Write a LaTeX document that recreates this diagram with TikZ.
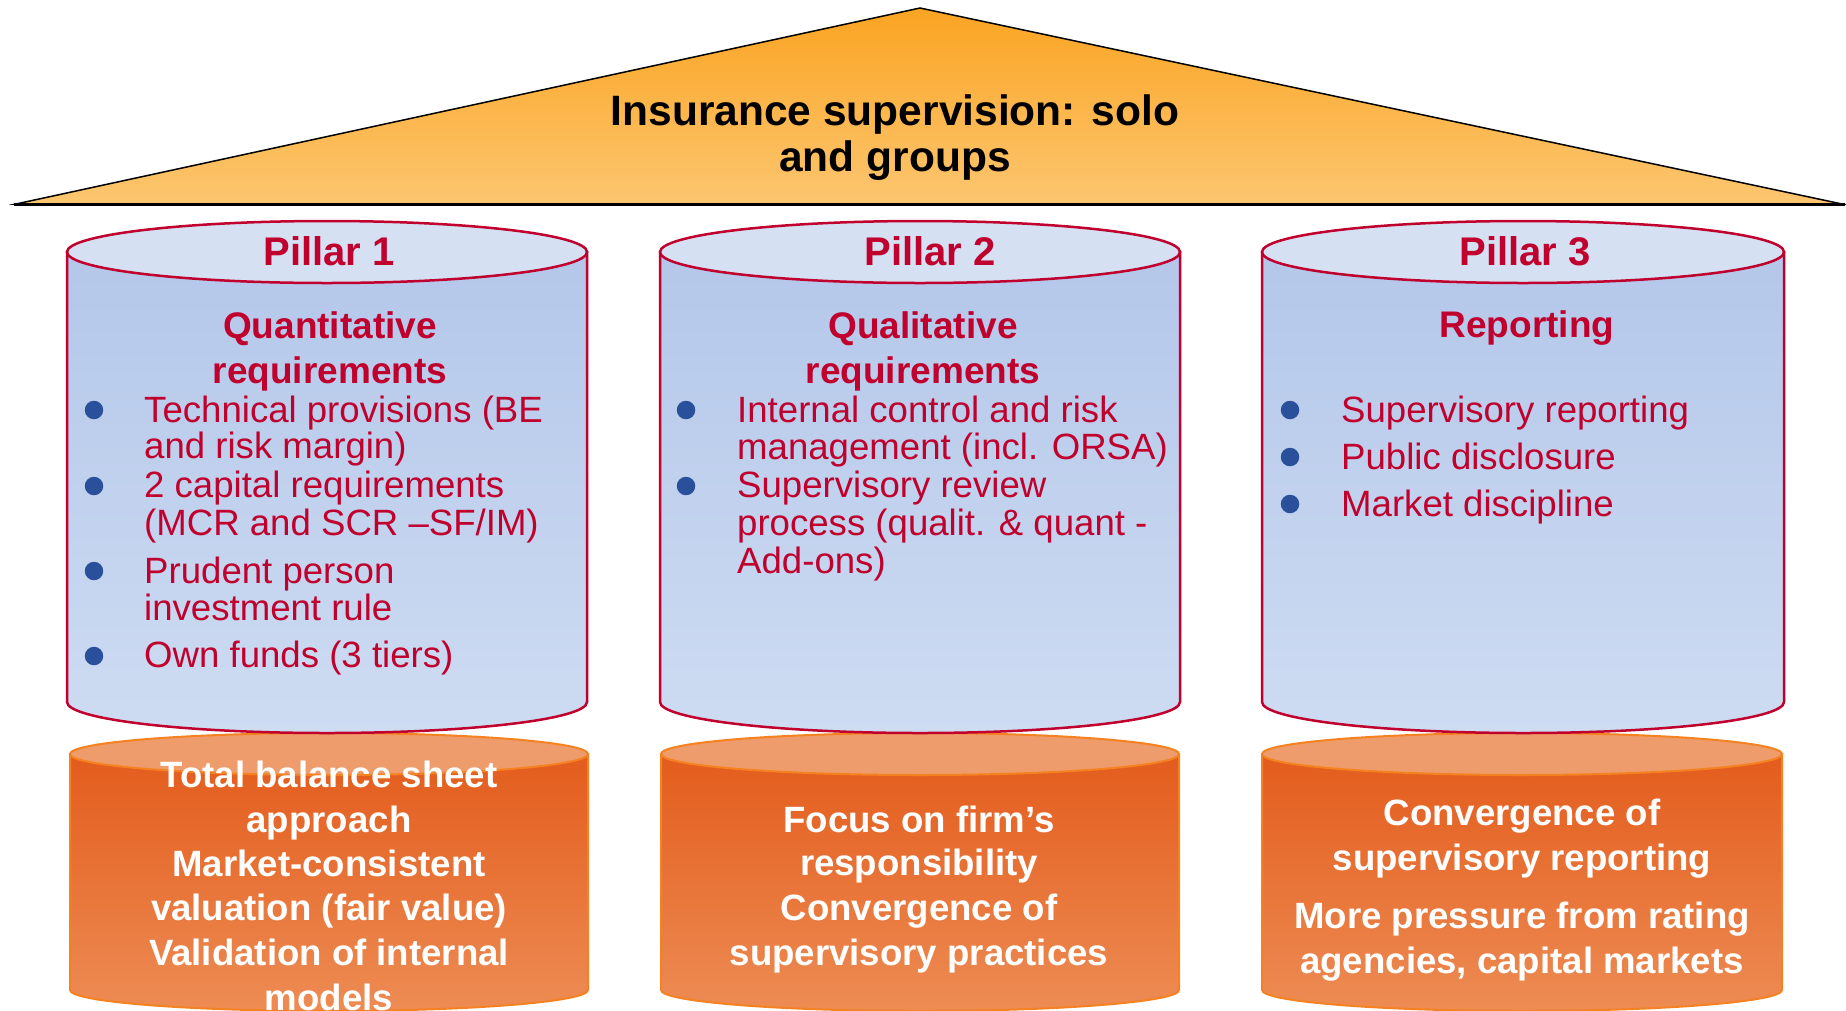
\documentclass[tikz,border=0pt]{standalone}
\usepackage{fontspec}
\setmainfont{Liberation Sans}
\definecolor{crim}{RGB}{192,0,45}
\definecolor{bulblue}{RGB}{43,80,155}
\definecolor{blueT}{RGB}{180,199,234}
\definecolor{blueB}{RGB}{206,220,242}
\definecolor{bluecapfill}{RGB}{213,224,243}
\definecolor{orT}{RGB}{227,92,28}
\definecolor{orB}{RGB}{237,140,84}
\definecolor{orcapfill}{RGB}{239,156,108}
\definecolor{orline}{RGB}{245,130,32}
\definecolor{roofT}{RGB}{251,164,34}
\definecolor{roofB}{RGB}{252,198,112}

% cylinder: centre x, x radius, top y, bottom y, y radius, style prefix
\newcommand\drawcyl[6]{%
  \path[#6body] (#1-#2,#3) -- (#1-#2,#4)
    arc[start angle=180,end angle=0,x radius=#2,y radius=#5] -- (#1+#2,#3) -- cycle;
  \path[#6cap] (#1,#3) ellipse[x radius=#2,y radius=#5];
}

\begin{document}
\begin{tikzpicture}[x=1pt,y=-1pt,
  bluebody/.style={draw=crim,line width=2.5,top color=blueT,bottom color=blueB},
  bluecap/.style={draw=crim,line width=2.5,fill=bluecapfill},
  orbody/.style={draw=orline,line width=2,top color=orT,bottom color=orB},
  orcap/.style={draw=orline,line width=2,fill=orcapfill},
  roof/.style={draw=black,line width=1.5,top color=roofT,bottom color=roofB},
  titletxt/.style={anchor=base,inner sep=0,text=black,font=\bfseries\fontsize{42.5}{46}\selectfont},
  pillarlbl/.style={anchor=base,inner sep=0,text=crim,font=\bfseries\fontsize{40}{44}\selectfont},
  head/.style={anchor=base,inner sep=0,text=crim,font=\bfseries\fontsize{37}{40}\selectfont},
  item/.style={anchor=base west,inner sep=0,text=crim,font=\fontsize{36.6}{40}\selectfont},
  dot/.style={circle,fill=bulblue,inner sep=0,minimum size=18.5},
  foot/.style={anchor=base,inner sep=0,text=white,font=\bfseries\fontsize{36.6}{40}\selectfont}]

\useasboundingbox (0,0) rectangle (1846,1010);
\clip (0,0) rectangle (1846,1010);

% roof
\path[roof] (16,204) -- (920,8) -- (1842,204) -- cycle;
\draw[line width=3] (14,204) -- (1845,204);
\node[titletxt] (title1) at (895,125) {Insurance supervision: solo};
\node[titletxt] (title2) at (895,171) {and groups};

% foundations
\drawcyl{329}{259}{754}{990}{21}{or}
\drawcyl{920}{259}{754}{990}{21}{or}
\drawcyl{1522}{260}{754}{990}{21}{or}

% pillars
\drawcyl{327}{260}{252}{702}{31}{blue}
\drawcyl{920}{260}{252}{702}{31}{blue}
\drawcyl{1523}{261}{252}{702}{31}{blue}

% pillar 1
\node[pillarlbl] (p1) at (329,265) {Pillar 1};
\node[head] (p1h1) at (330,338) {Quantitative};
\node[head] (p1h2) at (330,383) {requirements};
\node[dot] (p1d1) at (94,410) {};
\node[dot] (p1d2) at (94,486) {};
\node[dot] (p1d3) at (94,571) {};
\node[dot] (p1d4) at (94,656) {};
\node[item] (p1a) at (144,422) {Technical provisions (BE};
\node[item] (p1b) at (144,458) {and risk margin)};
\node[item] (p1c) at (144,497) {2 capital requirements};
\node[item] (p1d) at (144,535) {(MCR and SCR –SF/IM)};
\node[item] (p1e) at (144,583) {Prudent person};
\node[item] (p1f) at (144,620) {investment rule};
\node[item] (p1g) at (144,667) {Own funds (3 tiers)};

% pillar 2
\node[pillarlbl] (p2) at (930,265) {Pillar 2};
\node[head] (p2h1) at (923,338) {Qualitative};
\node[head] (p2h2) at (923,383) {requirements};
\node[dot] (p2d1) at (686,410) {};
\node[dot] (p2d2) at (686,486) {};
\node[item] (p2a) at (737,422) {Internal control and risk};
\node[item] (p2b) at (737,459) {management (incl. ORSA)};
\node[item] (p2c) at (737,497) {Supervisory review};
\node[item] (p2d) at (737,535) {process (qualit. \& quant -};
\node[item] (p2e) at (737,573) {Add-ons)};

% pillar 3
\node[pillarlbl] (p3) at (1525,265) {Pillar 3};
\node[head] (p3h1) at (1527,337) {Reporting};
\node[dot] (p3d1) at (1290,410) {};
\node[dot] (p3d2) at (1290,457) {};
\node[dot] (p3d3) at (1290,504) {};
\node[item] (p3a) at (1341,422) {Supervisory reporting};
\node[item] (p3b) at (1341,469) {Public disclosure};
\node[item] (p3c) at (1341,516) {Market discipline};

% foundation texts
\node[foot] (f1a) at (329,787) {Total balance sheet};
\node[foot] (f1b) at (329,832) {approach};
\node[foot] (f1c) at (329,876) {Market-consistent};
\node[foot] (f1d) at (329,920) {valuation (fair value)};
\node[foot] (f1e) at (329,965) {Validation of internal};
\node[foot] (f1f) at (329,1010) {models};

\node[foot] (f2a) at (919,832) {Focus on firm’s};
\node[foot] (f2b) at (919,875) {responsibility};
\node[foot] (f2c) at (919,920) {Convergence of};
\node[foot] (f2d) at (919,965) {supervisory practices};

\node[foot] (f3a) at (1522,825) {Convergence of};
\node[foot] (f3b) at (1522,870) {supervisory reporting};
\node[foot] (f3c) at (1522,928) {More pressure from rating};
\node[foot] (f3d) at (1522,973) {agencies, capital markets};
\end{tikzpicture}
\end{document}
